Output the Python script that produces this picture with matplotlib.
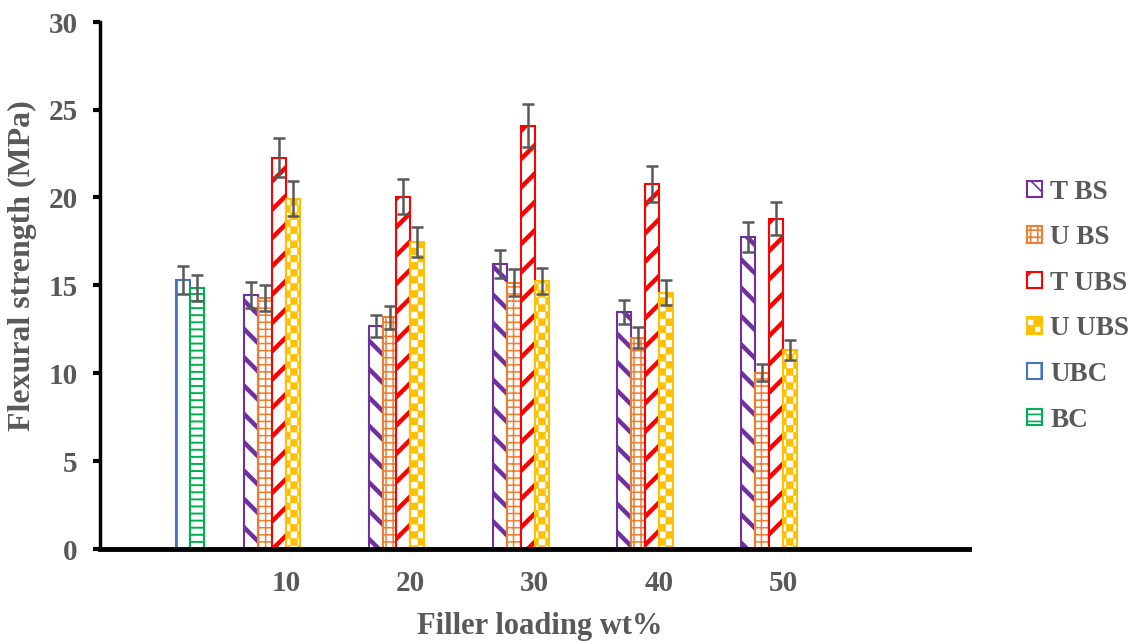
import numpy as np
import matplotlib
matplotlib.use("Agg")
import matplotlib.pyplot as plt
import matplotlib.hatch as mhatch
from matplotlib.path import Path

# ---------------- data ----------------
categories = ["", "10", "20", "30", "40", "50", ""]
series_names = ["T BS", "U BS", "T UBS", "U UBS", "UBC", "BC"]
nan = np.nan
t_bs = [nan, 14.44, 12.69, 16.20, 13.49, 17.75, nan]
t_bs_err = [nan, 0.73, 0.64, 0.80, 0.68, 0.88, nan]
u_bs = [nan, 14.27, 13.17, 15.16, 12.03, 10.03, nan]
u_bs_err = [nan, 0.73, 0.66, 0.76, 0.62, 0.50, nan]
t_ubs = [nan, 22.27, 20.05, 24.09, 20.76, 18.80, nan]
t_ubs_err = [nan, 1.09, 1.00, 1.20, 1.02, 0.93, nan]
u_ubs = [nan, 19.94, 17.47, 15.25, 14.59, 11.33, nan]
u_ubs_err = [nan, 1.00, 0.86, 0.73, 0.72, 0.57, nan]
ubc = [15.31, nan, nan, nan, nan, nan, nan]
ubc_err = [0.78, nan, nan, nan, nan, nan, nan]
bc = [14.85, nan, nan, nan, nan, nan, nan]
bc_err = [0.74, nan, nan, nan, nan, nan, nan]

values = [t_bs, u_bs, t_ubs, u_ubs, ubc, bc]
errors = [t_bs_err, u_bs_err, t_ubs_err, u_ubs_err, ubc_err, bc_err]

# ---------------- styles ----------------
DPI = 85
S = 100.0 / DPI          # sizes below are given as if at 100 dpi


def P(v):
    return v * S


colors = ["#7030A0", "#ED7D31", "#FF0000", "#FFC000", "#4472C4", "#00B050"]
hatches = ["\\", "++", "/", "*", "|", "--"]
hatch_lw = [3.2, 1.1, 3.2, 0.3, 1.1, 1.4]
gray = "#595959"
font = "Liberation Serif"


# custom checkerboard hatch (replaces the '*' star hatch)
class Checker(mhatch.HatchPatternBase):
    def __init__(self, hatch, density):
        n = int(hatch.count('*') * density * 2)
        if n % 2:
            n += 1
        self.n = n
        self.num_vertices = (n * n // 2) * 5 if n else 0

    def set_vertices_and_codes(self, vertices, codes):
        n = self.n
        s = 1.0 / n
        k = 0
        for r in range(n):
            for c in range(n):
                if (r + c) % 2 == 0:
                    x0, y0 = c * s, r * s
                    vertices[k:k + 5] = [(x0, y0), (x0 + s, y0), (x0 + s, y0 + s),
                                         (x0, y0 + s), (x0, y0)]
                    codes[k:k + 5] = [Path.MOVETO, Path.LINETO, Path.LINETO,
                                      Path.LINETO, Path.CLOSEPOLY]
                    k += 5


mhatch._hatch_types = [t for t in mhatch._hatch_types if t is not mhatch.Stars] + [Checker]

W, H = 1137, 644
AX_L, AX_R, AX_T, AX_B = 100, 969, 22, 549
fig = plt.figure(figsize=((W + 0.3) / DPI, (H + 0.3) / DPI), dpi=DPI)
ax = fig.add_axes([AX_L / W, 1 - AX_B / H, (AX_R - AX_L) / W, (AX_B - AX_T) / H])

n_series = len(values)
w = 0.1125
x = np.arange(len(categories))
for j in range(n_series):
    xs = x + (j - (n_series - 1) / 2) * w
    vals = np.array(values[j], dtype=float)
    errs = np.array(errors[j], dtype=float)
    mask = ~np.isnan(vals)
    bars = ax.bar(xs[mask], vals[mask], width=w, facecolor="white",
                  edgecolor=colors[j], linewidth=P(1.5), hatch=hatches[j],
                  label=series_names[j], zorder=2)
    for b in bars:
        try:
            b.set_hatch_linewidth(P(hatch_lw[j]))
        except AttributeError:
            pass
    ax.errorbar(xs[mask], vals[mask], yerr=errs[mask], fmt="none",
                ecolor=gray, elinewidth=P(1.8), capsize=P(4), capthick=P(1.8),
                zorder=3)

ax.set_xlim(-0.5, len(categories) - 0.5)
ax.set_ylim(0, 30)
ax.set_yticks(np.arange(0, 31, 5))
ax.set_xticks(x)
ax.set_xticklabels(categories)

for s in ["top", "right"]:
    ax.spines[s].set_visible(False)
ax.spines["left"].set_linewidth(P(2.5))
ax.spines["bottom"].set_linewidth(P(3.5))
ax.spines["left"].set_color("black")
ax.spines["bottom"].set_color("black")

ax.tick_params(axis="y", direction="out", length=P(5), width=P(3), color="black",
               pad=P(11), labelsize=P(21), labelcolor=gray)
ax.tick_params(axis="x", length=0, pad=P(15), labelsize=P(21), labelcolor=gray)
for lab in ax.get_xticklabels() + ax.get_yticklabels():
    lab.set_fontfamily(font)
    lab.set_fontweight("bold")

ax.set_xlabel("Filler loading wt%", fontsize=P(22), fontweight="bold",
              fontfamily=font, color=gray)
ax.set_ylabel("Flexural strength (MPa)", fontsize=P(23), fontweight="bold",
              fontfamily=font, color=gray)
axw, axh = AX_R - AX_L, AX_B - AX_T
ax.xaxis.set_label_coords((540 - AX_L) / axw, -(612 - AX_B) / axh)
ax.yaxis.set_label_coords(-(AX_L - 37) / axw, (AX_B - 266) / axh)

handles, labels = ax.get_legend_handles_labels()
leg = fig.legend(handles, labels, loc="center left",
                 bbox_to_anchor=(1008 / W, 1 - 306 / H),
                 frameon=False, handlelength=0.55, handleheight=0.55,
                 handletextpad=0.3, labelspacing=0.76, borderpad=0.2,
                 prop={"family": font, "weight": "bold", "size": P(19.5)},
                 labelcolor=gray)
for p in leg.get_patches():
    try:
        p.set_hatch_linewidth(P(1.2))
    except AttributeError:
        pass

fig.savefig("out.png", dpi=DPI, facecolor="white")
